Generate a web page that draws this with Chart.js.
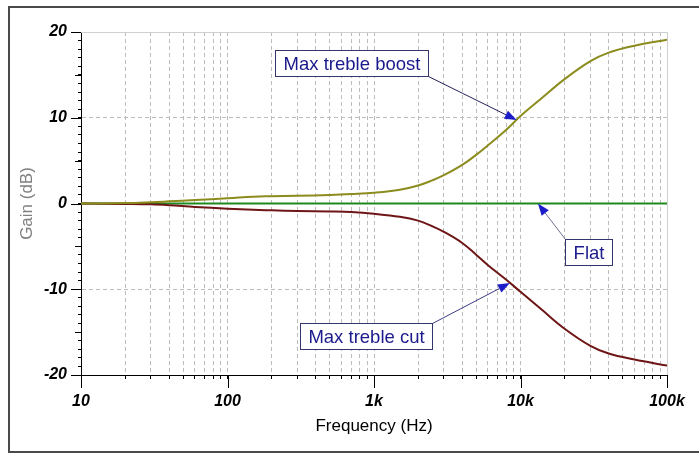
<!DOCTYPE html>
<html>
<head>
<meta charset="utf-8">
<script src="https://cdn.jsdelivr.net/npm/chart.js@4.4.1/dist/chart.umd.min.js"></script>
<style>
html,body{margin:0;padding:0;background:#fff;}
#c{display:block;}
</style>
</head>
<body>
<canvas id="c" width="699" height="462"></canvas>
<script>
// ---------- data ----------
const freqs   = [10, 20, 30, 40, 60, 100, 150, 200, 300, 500, 700, 1000, 1500, 2000, 2500, 3000, 4000, 5000, 6000, 8000, 10000, 14000, 20000, 30000, 40000, 60000, 100000];
const boostDb = [0, 0.05, 0.15, 0.25, 0.4, 0.6, 0.8, 0.85, 0.9, 1.0, 1.1, 1.25, 1.6, 2.1, 2.7, 3.3, 4.5, 5.7, 6.8, 8.6, 10.2, 12.3, 14.5, 16.6, 17.6, 18.4, 19.1];
const cutDb   = [0, -0.05, -0.1, -0.2, -0.4, -0.6, -0.72, -0.8, -0.87, -0.93, -1.0, -1.2, -1.55, -2.0, -2.65, -3.3, -4.6, -6.0, -7.2, -8.9, -10.3, -12.4, -14.6, -16.6, -17.5, -18.2, -18.9];
const flatFreqs = [10, 100000];
const flatDb    = [0, 0];

const decadeValues = [10, 100, 1000, 10000, 100000];
const decadeLabels = ['10', '100', '1k', '10k', '100k'];
const yGridValues  = [10, 0, -10];

// annotations (text, box centre in data units, arrow tip in data units)
const noteTexts  = ['Max treble boost', 'Flat', 'Max treble cut'];
const noteBoxX   = [702, 28900, 881];
const noteBoxY   = [16.4, -5.6, -15.4];
const noteTipX   = [9420, 13150, 8470];
const noteTipY   = [9.73, 0, -9.27];
const noteCorner = ['br', 'tl', 'tr'];

// ---------- styles ----------
const FONT = '"Liberation Sans", Arial, sans-serif';
const COL_BOOST = '#8c8c1e';
const COL_CUT   = '#6e1616';
const COL_FLAT  = '#1f8a1f';
const GRID_COL  = '#bcbcbc';
const CLEAR     = 'rgba(0,0,0,0)';

function pts(xs, ys){ return xs.map((x,i)=>({x:x, y:ys[i]})); }
function decadeIndex(v){
  for (let i=0;i<decadeValues.length;i++){ if (Math.abs(v/decadeValues[i]-1) < 1e-6) return i; }
  return -1;
}
function seg(ctx, x1, y1, x2, y2){
  ctx.beginPath();
  ctx.moveTo(x1, y1);
  ctx.lineTo(x2, y2);
  ctx.stroke();
}

// longer major tick marks and light frame (top / right)
function drawMajorTicks(chart){
  const ctx = chart.ctx, ca = chart.chartArea, x = chart.scales.x, y = chart.scales.y;
  const L = Math.round(ca.left), T = Math.round(ca.top), R = Math.round(ca.right), B = Math.round(ca.bottom);
  ctx.save();
  ctx.fillStyle = '#cfcfcf';
  ctx.fillRect(L, T, R - L + 1, 1);
  ctx.fillRect(R, T, 1, B - T);
  ctx.fillStyle = '#000';
  decadeValues.forEach(v => {
    const px = Math.round(x.getPixelForValue(v));
    ctx.fillRect(px, B, 1, 13);
  });
  for (let v = y.min; v <= y.max; v += 5){
    const py = Math.round(y.getPixelForValue(v));
    const len = (v % 10 === 0) ? 10 : 6;
    ctx.fillRect(L - len, py, len, 1);
  }
  ctx.restore();
}

function drawNotes(chart){
  const x = chart.scales.x, y = chart.scales.y, ctx = chart.ctx;
  ctx.save();
  ctx.setLineDash([]);
  ctx.font = '18.5px ' + FONT;
  ctx.textAlign = 'center';
  ctx.textBaseline = 'middle';
  const arrowCols = ['#23235e', '#6f7090', '#3b3b86'];
  noteTexts.forEach((txt, i) => {
    const cx = x.getPixelForValue(noteBoxX[i]);
    const cy = y.getPixelForValue(noteBoxY[i]);
    const w = ctx.measureText(txt).width + 16;
    const h = 26;
    const L = Math.round(cx - w/2) + 0.5, T = Math.round(cy - h/2) + 0.5;
    const R = L + Math.round(w), B = T + h;
    const sx = noteCorner[i].includes('l') ? L : R;
    const sy = noteCorner[i].includes('t') ? T : B;
    const tx = x.getPixelForValue(noteTipX[i]);
    const ty = y.getPixelForValue(noteTipY[i]);
    const ang = Math.atan2(ty - sy, tx - sx);
    const headLen = 12, headW = 4.5;
    const bx = tx - headLen*Math.cos(ang), by = ty - headLen*Math.sin(ang);
    ctx.strokeStyle = arrowCols[i];
    ctx.lineWidth = 1;
    seg(ctx, sx, sy, bx, by);
    ctx.fillStyle = '#1c1cc8';
    ctx.beginPath();
    ctx.moveTo(tx, ty);
    ctx.lineTo(bx + headW*Math.sin(ang), by - headW*Math.cos(ang));
    ctx.lineTo(bx - headW*Math.sin(ang), by + headW*Math.cos(ang));
    ctx.closePath();
    ctx.fill();
    ctx.fillStyle = '#fff';
    ctx.fillRect(L, T, R-L, h);
    ctx.strokeStyle = '#34346e';
    ctx.strokeRect(L, T, R-L, h);
    ctx.fillStyle = '#1a1a8c';
    ctx.fillText(txt, (L+R)/2, (T+B)/2 + 1);
  });
  ctx.restore();
}

const framePlugin = {
  id: 'frame',
  beforeDraw(chart){
    const ctx = chart.ctx;
    ctx.save();
    ctx.fillStyle = '#fff';
    ctx.fillRect(0,0,chart.width,chart.height);
    ctx.fillStyle = '#4a4a4a';
    ctx.fillRect(8, 6, 700, 2);
    ctx.fillRect(8, 6, 2, 447);
    ctx.fillRect(8, 451, 700, 2);
    ctx.restore();
  },
  afterDraw(chart){
    drawMajorTicks(chart);
    drawNotes(chart);
  }
};

new Chart(document.getElementById('c'), {
  type: 'line',
  data: {
    datasets: [
      { label: 'Max treble boost', data: pts(freqs, boostDb), borderColor: COL_BOOST, borderWidth: 2, pointRadius: 0, tension: 0.4, fill: false },
      { label: 'Max treble cut',   data: pts(freqs, cutDb),   borderColor: COL_CUT,   borderWidth: 2, pointRadius: 0, tension: 0.4, fill: false },
      { label: 'Flat',             data: pts(flatFreqs, flatDb), borderColor: COL_FLAT, borderWidth: 2, pointRadius: 0, fill: false }
    ]
  },
  options: {
    responsive: false,
    animation: false,
    devicePixelRatio: 1,
    layout: { padding: { left: 0, top: 32, right: 32, bottom: 0 } },
    plugins: { legend: { display: false }, tooltip: { enabled: false } },
    scales: {
      x: {
        type: 'logarithmic',
        min: 10, max: 100000,
        afterBuildTicks(scale){
          const t = [];
          for (let d = 10; d < 100000; d *= 10){
            for (let m = 1; m <= 9; m++) t.push({ value: m * d });
          }
          t.push({ value: 100000 });
          scale.ticks = t;
        },
        afterFit(scale){ scale.height = 87; },
        ticks: {
          autoSkip: false, maxRotation: 0, padding: 13,
          color: '#000',
          font: { family: FONT, size: 16, style: 'italic', weight: 'bold' },
          callback(v){ const i = decadeIndex(v); return i >= 0 ? decadeLabels[i] : ''; }
        },
        grid: {
          drawTicks: true,
          tickLength: 4,
          tickColor: '#000',
          tickWidth: 1,
          color(ctx){ const v = ctx.tick && ctx.tick.value; return (v === 10 || v === 100000) ? CLEAR : GRID_COL; },
          lineWidth: 1
        },
        border: { display: true, color: '#000', width: 1, dash: [4, 3] },
        title: { display: true, text: 'Frequency (Hz)', color: '#000', font: { family: FONT, size: 17 }, padding: { top: 0, bottom: 25 } }
      },
      y: {
        type: 'linear',
        min: -20, max: 20,
        afterFit(scale){ scale.width = 81; },
        afterBuildTicks(scale){
          const t = [];
          for (let v = scale.max; v >= scale.min; v -= 1) t.push({ value: v });
          scale.ticks = t;
        },
        ticks: {
          autoSkip: false, padding: 11, color: '#000',
          font: { family: FONT, size: 16, style: 'italic', weight: 'bold' },
          callback(v){ return (v % 10 === 0) ? String(v) : ''; }
        },
        grid: {
          drawTicks: true,
          tickLength: 3,
          tickColor: '#000',
          tickWidth: 1,
          color(ctx){ const v = ctx.tick && ctx.tick.value; return yGridValues.includes(v) ? GRID_COL : CLEAR; },
          lineWidth: 1
        },
        border: { display: true, color: '#000', width: 1, dash: [4, 3] },
        title: { display: true, text: 'Gain (dB)', color: '#808080', font: { family: FONT, size: 17 }, padding: { top: 17, bottom: 0 } }
      }
    }
  },
  plugins: [framePlugin]
});
</script>
</body>
</html>
